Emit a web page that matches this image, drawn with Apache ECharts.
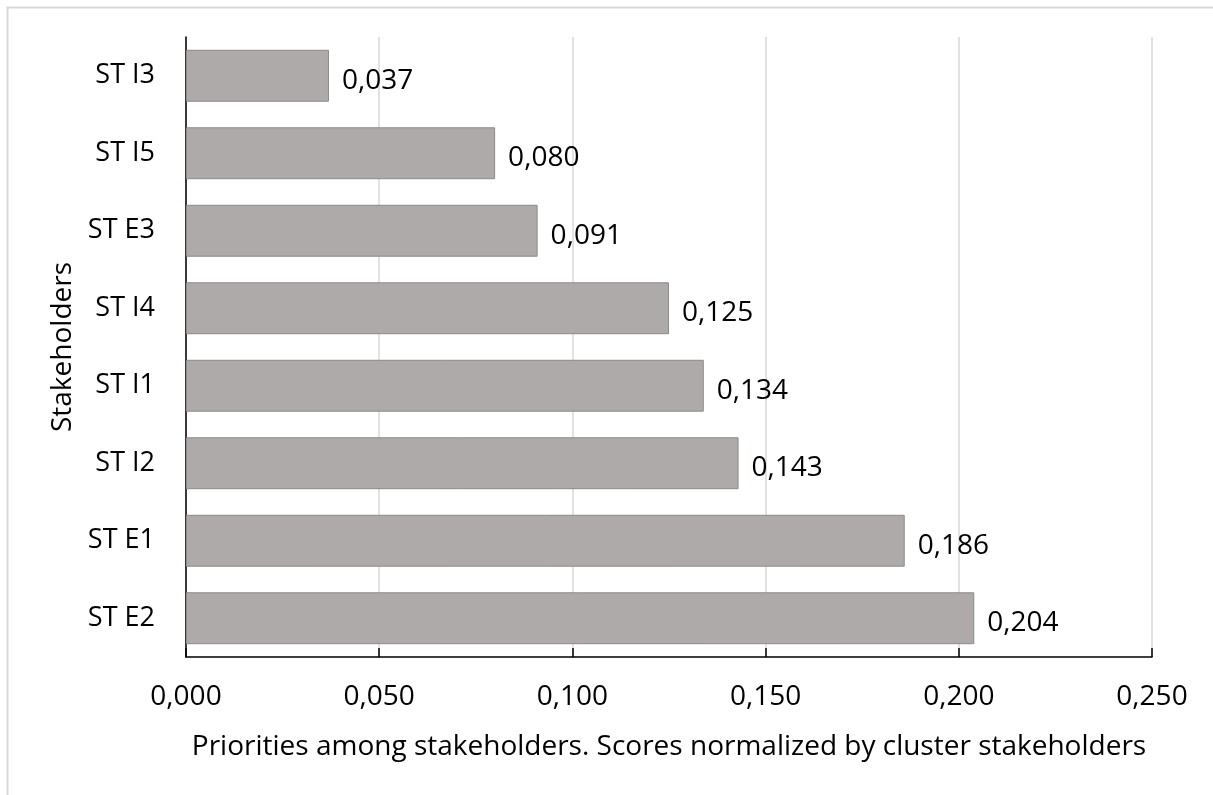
<!DOCTYPE html>
<html><head><meta charset="utf-8">
<script src="https://cdn.jsdelivr.net/npm/echarts@6/dist/echarts.min.js"></script>
<style>html,body{margin:0;padding:0;background:#fff}#c{width:1213px;height:795px}</style>
</head><body><div id="c"></div>
<script>
const categories = ['ST I3','ST I5','ST E3','ST I4','ST I1','ST I2','ST E1','ST E2'];
const values = [0.037, 0.080, 0.091, 0.125, 0.134, 0.143, 0.186, 0.204];
const xTitle = 'Priorities among stakeholders. Scores normalized by cluster stakeholders';
const yTitle = 'Stakeholders';
const font = '"Open Sans", Lato, sans-serif';
const fmt = v => v.toFixed(3).replace('.', ',');
const chart = echarts.init(document.getElementById('c'));
chart.setOption({
  animation: false,
  graphic: [{type:'rect', shape:{x:7.5,y:7.5,width:1300,height:900}, style:{fill:'none', stroke:'#d9d9d9', lineWidth:2}, silent:true}],
  grid: {left:186, right:61, top:37, bottom:138},
  xAxis: {
    type:'value', min:0, max:0.25, interval:0.05,
    name: xTitle, nameLocation:'middle', nameGap:76,
    nameTextStyle:{fontFamily:font, fontSize:28, color:'#000'},
    axisLine:{show:true, lineStyle:{color:'#000', width:1.5}},
    axisTick:{show:true, inside:true, length:9, lineStyle:{color:'#000', width:1.5}},
    axisLabel:{formatter:fmt, fontFamily:font, fontSize:28, color:'#000', margin:26},
    splitLine:{show:true, lineStyle:{color:'#d9d9d9', width:1.5}}
  },
  yAxis: {
    type:'category', data:categories, inverse:true,
    name: yTitle, nameLocation:'middle', nameGap:106, nameRotate:90,
    nameTextStyle:{fontFamily:font, fontSize:28, color:'#000'},
    axisLine:{show:true, lineStyle:{color:'#000', width:1.5}},
    axisTick:{show:false},
    axisLabel:{fontFamily:font, fontSize:27, color:'#000', margin:31}
  },
  series: [{
    type:'bar', data:values, barCategoryGap:'33%',
    itemStyle:{color:'#aeaaa9', borderColor:'#8c8a89', borderWidth:1},
    label:{show:true, position:'right', distance:13, formatter:p=>fmt(p.value), fontFamily:font, fontSize:28, color:'#000', offset:[0,5]}
  }]
});
</script></body></html>
